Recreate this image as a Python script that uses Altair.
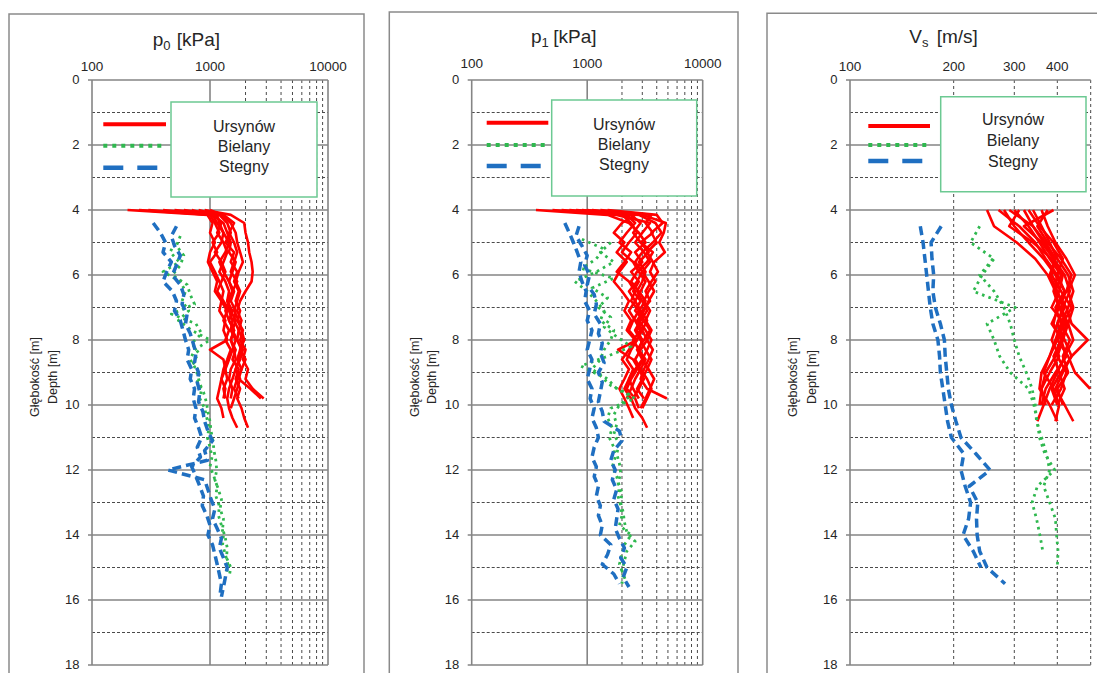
import altair as alt
import pandas as pd

FONT = "Liberation Sans"

# ---------------- data ----------------
SITES = ["Ursynów", "Bielany", "Stegny"]

# depth grids [m]
D_RED = [4.0, 4.15, 4.4, 4.7, 5.0, 5.3, 5.6, 5.9, 6.2, 6.5, 6.8, 7.1, 7.4, 7.7,
         8.0, 8.3, 8.6, 8.9, 9.2, 9.5, 9.8, 10.1, 10.4, 10.7]
GRID_A = [4.2, 4.5, 4.8, 5.1, 5.4, 5.7, 6.0, 6.3, 6.6, 6.9, 7.2, 7.5, 7.8, 8.1,
          8.4, 8.7, 9.0, 9.3, 9.6, 9.9, 10.2, 10.5, 10.8, 11.1, 11.4, 11.7, 12.0,
          12.3, 12.6, 12.9, 13.2, 13.5, 13.8, 14.1, 14.4, 14.7, 15.0, 15.3, 15.6, 15.9]
GRID_B = [4.3, 4.6, 4.9, 5.2, 5.5, 5.8, 6.1, 6.4, 6.7, 7.0, 7.3, 7.6, 7.9, 8.2,
          8.5, 8.8, 9.1, 9.4, 9.7, 10.0, 10.3, 10.6, 10.9, 11.2, 11.5, 11.8, 12.1,
          12.4, 12.7, 13.0, 13.3, 13.6, 13.9, 14.2, 14.5, 14.8, 15.1, 15.4, 15.7]
GRID_C = [4.4, 4.7, 5.0, 5.3, 5.6, 5.9, 6.2, 6.5, 6.8, 7.1, 7.4, 7.7, 8.0, 8.3,
          8.6, 8.9, 9.2, 9.5, 9.8, 10.1, 10.4, 10.7, 11.0, 11.3, 11.6, 11.9, 12.2,
          12.5, 12.8, 13.1, 13.4, 13.7, 14.0, 14.3, 14.6, 14.9, 15.2, 15.5, 15.8]
D_VS_RED = [4.0, 4.5, 5.0, 5.5, 6.0, 6.5, 7.0, 7.5, 8.0, 8.5, 9.0, 9.5, 10.0, 10.5]
D_VS = [4.5, 5.0, 5.5, 6.0, 6.5, 7.0, 7.5, 8.0, 8.5, 9.0, 9.5, 10.0, 10.5, 11.0,
        11.5, 12.0, 12.5, 13.0, 13.5, 14.0, 14.5, 15.0, 15.5]

# p0 [kPa]
P0_URSYNOW = [
    [200, 950, 1050, 1000, 1100, 1000, 960, 1050, 1150, 1100, 1250, 1200, 1350, 1300, 1400, 1000, 1300, 1350, 1250, 1350, 1300],
    [900, 1500, 1950, 2000, 2100, 2150, 2250, 2300, 2250, 2000, 1800, 1700, 1850, 1750, 1900, 1800, 2000, 1850, 1700, 1600, 1750],
    [600, 1200, 1400, 1500, 1350, 1600, 1500, 1700, 1600, 1750, 1650, 1800, 1700, 1900, 1800, 2000, 1900, 2100, 2000, 2300, 2850],
    [400, 1100, 1250, 1150, 1300, 1400, 1300, 1200, 1350, 1450, 1400, 1550, 1450, 1600, 1500, 1650, 1550, 1750, 1650, 1800, 1700, 1850, 1950, 2100],
    [700, 1000, 1100, 1200, 1050, 1150, 1000, 1100, 1200, 1300, 1250, 1400, 1300, 1450, 1350, 1500, 1400, 1300, 1250, 1200, 1150, 1250, 1300],
    [300, 1050, 1300, 1400, 1500, 1450, 1650, 1550, 1450, 1600, 1500, 1650, 1600, 1750, 1700, 1850, 1750, 1650, 1800, 1700, 1600, 1500],
    [1000, 1250, 1500, 1650, 1700, 1800, 1900, 1750, 1650, 1800, 1700, 1600, 1750, 1850, 1950, 1800, 1700, 1850, 1750, 2200, 2700],
    [800, 1150, 1200, 1300, 1250, 1100, 1250, 1350, 1250, 1150, 1300, 1450, 1550, 1500, 1650, 1550, 1450, 1350, 1400, 1300, 1350],
    [500, 1300, 1600, 1450, 1600, 1700, 1600, 1500, 1700, 1550, 1400, 1500, 1650, 1550, 1700, 1900, 1800, 1650, 1550, 1450, 1400, 1450, 1550, 1700],
    [250, 1050, 1150, 1300, 1450, 1350, 1200, 1300, 1450, 1550, 1450, 1350, 1450, 1600, 1500, 1600, 1650, 1500, 1450, 1550, 1500],
]
P0_BIELANY = [
    (GRID_A, 2, [560, 520, 600, 560, 480, 640, 680, 740, 470, 760, 850, 700, 800, 720, 820, 780, 880, 930, 960, 1000, 1020, 1060, 1080, 1120, 1140, 1100, 1180, 1250, 1220, 1300, 1280, 1350, 1400, 1380, 1500, 1450]),
    (GRID_C, 2, [500, 460, 550, 400, 560, 620, 580, 660, 540, 700, 1000, 740, 680, 760, 800, 850, 820, 900, 940, 980, 950, 1000, 1040, 1000, 1080, 1150, 1120, 1200, 1180, 1250, 1300, 1280, 1350, 1420, 1380]),
]
P0_STEGNY = [
    (GRID_C, 0, [330, 380, 420, 400, 470, 430, 400, 480, 520, 500, 560, 590, 620, 660, 640, 700, 680, 740, 720, 760, 740, 800, 850, 780, 830, 700, 760, 820, 880, 860, 940, 1000, 960, 1050, 1100, 1150, 1200, 1250, 1220]),
    (GRID_A, 1, [520, 470, 500, 560, 520, 480, 560, 600, 580, 640, 620, 680, 720, 760, 740, 800, 780, 820, 800, 870, 900, 960, 1050, 900, 950, 440, 900, 960, 1020, 1100, 1050, 1150, 1250, 1200, 1300, 1400, 1350, 1300, 1250]),
]

# p1 [kPa]
P1_URSYNOW = [
    [360, 1500, 2300, 2800, 3200, 2600, 3000, 2400, 2800, 2500, 2900, 2600, 3100, 2700, 3000, 2800, 3200, 2900, 2600, 2400, 2200],
    [1100, 3000, 4800, 4600, 4200, 4700, 3800, 3500, 3900, 3400, 3100, 3500, 3200, 3600, 3300, 3700, 3400, 3100, 2900, 3300, 4900],
    [700, 2200, 2600, 2200, 1900, 2400, 2100, 1800, 2300, 2600, 2400, 2800, 2500, 2300, 2700, 2400, 2200, 2500, 2300, 2100, 2400, 2600, 3000, 3300],
    [500, 1800, 3500, 3000, 2600, 3100, 3500, 3000, 2700, 2300, 2600, 2900, 3300, 3000, 2700, 1850, 2500, 2800, 3100, 2800, 2500],
    [1500, 4000, 4500, 3600, 4000, 3300, 3700, 4100, 3600, 3200, 3500, 3000, 2800, 3200, 3600, 3300, 3000, 3400, 3800, 3500, 3200, 2900],
    [900, 2600, 2000, 1700, 2100, 1800, 2200, 1900, 1700, 2000, 2300, 2100, 2400, 2200, 2600, 2300, 2000, 2300, 2100, 1900, 2100, 2300, 2500],
    [1300, 3600, 3200, 3700, 2900, 3400, 2800, 3200, 3000, 2700, 3000, 3300, 2900, 2600, 2900, 3200, 3600, 3300, 3000, 2700, 3100],
    [600, 2000, 2400, 2700, 2300, 2000, 2500, 2800, 3200, 2900, 2600, 2300, 2600, 2900, 2500, 2800, 3100, 2700, 2400, 2200, 2600, 2800],
    [800, 2800, 3900, 4400, 3700, 3000, 2600, 3000, 3400, 3800, 3400, 3100, 2700, 3000, 3300, 2900, 2600, 2900, 3300, 3600, 3300, 3000],
    [1000, 2400, 2900, 2500, 2900, 3700, 3300, 2700, 2400, 2800, 3200, 2800, 3100, 3500, 3100, 2700, 3000, 2600, 2300, 2500, 2800],
]
P1_BIELANY = [
    (GRID_B, 2, [900, 1400, 1200, 900, 1700, 1100, 1500, 1250, 1600, 1400, 1800, 2400, 1500, 880, 1300, 1600, 2400, 1900, 1700, 1800, 1700, 1900, 1800, 1900, 1950, 1850, 2000, 1950, 2050, 2100, 2200, 2600, 2200, 2100, 2000, 2150]),
    (GRID_C, 2, [1600, 1300, 1700, 1200, 780, 1000, 1200, 1400, 1300, 1700, 1600, 1400, 1300, 1100, 1500, 1800, 2600, 1600, 1500, 1650, 1550, 1700, 1750, 1650, 1800, 1900, 1850, 1950, 2000, 1900, 2400, 2100, 2000, 1900, 2050, 2000]),
]
P1_STEGNY = [
    (GRID_C, 0, [640, 700, 760, 820, 880, 850, 900, 980, 950, 1050, 1000, 1100, 1050, 1000, 1100, 1050, 1000, 1100, 1060, 1150, 1100, 1200, 1250, 1150, 1100, 1200, 1150, 1250, 1200, 1300, 1250, 1350, 1300, 1600, 1500, 1350, 1700, 1900]),
    (GRID_A, 1, [850, 800, 900, 1000, 950, 1050, 1000, 1150, 1200, 1150, 1300, 1250, 1350, 1300, 1400, 1250, 1350, 1300, 1250, 1350, 1400, 1900, 2000, 1700, 1600, 1750, 1650, 1800, 1700, 1850, 1800, 1750, 1900, 2100, 1950, 2200, 2050, 2300]),
]

# Vs [m/s]
VS_URSYNOW = [
    [250, 262, 305, 345, 375, 395, 405, 385, 415, 395, 370, 360, 355],
    [280, 300, 330, 365, 395, 420, 410, 430, 445, 420, 400, 380, 365, 350],
    [300, 330, 355, 380, 410, 395, 425, 440, 490, 440, 410, 385, 400],
    [320, 340, 370, 395, 385, 410, 440, 415, 400, 430, 450, 498],
    [390, 320, 360, 390, 420, 435, 415, 400, 420, 440, 415, 395, 420, 445],
    [340, 360, 380, 400, 430, 445, 430, 410, 395, 380, 360, 355, 380, 400],
    [270, 310, 345, 370, 400, 390, 405, 425, 410, 390, 405, 420, 400],
    [375, 350, 375, 410, 440, 425, 400, 390, 410, 425, 395, 370, 360],
    [310, 290, 340, 385, 415, 405, 385, 420, 400, 380, 365, 390, 405, 395],
    [360, 375, 395, 425, 450, 430, 445, 430, 415, 400, 425, 410, 385],
    [290, 340, 365, 395, 380, 400, 420, 400, 385, 405, 380, 360, 370],
    [330, 355, 390, 415, 400, 420, 395, 410, 435, 415, 430, 400, 415],
]
VS_BIELANY = [
    (D_VS, 0, [238, 224, 262, 242, 228, 302, 250, 262, 272, 292, 330, 342, 350, 355, 368, 393, 350, 338, 348, 356, 363]),
    (D_VS, 2, [260, 238, 262, 280, 292, 300, 310, 325, 338, 345, 348, 360, 372, 380, 365, 380, 395, 398, 402, 400]),
]
VS_STEGNY = [
    (D_VS, 0, [160, 163, 165, 167, 169, 171, 174, 180, 182, 183, 186, 189, 192, 197, 214, 210, 216, 224, 221, 213, 228, 240]),
    (D_VS, 0, [184, 172, 173, 175, 174, 177, 183, 188, 189, 191, 193, 197, 203, 210, 232, 255, 222, 235, 233, 234, 238, 250, 282]),
]

DEPTH_MAJOR = [0, 2, 4, 6, 8, 10, 12, 14, 16, 18]
DEPTH_MINOR = [1, 3, 5, 7, 9, 11, 13, 15, 17]

PANELS = ["p0", "p1", "vs"]
TICKS = {"p0": [100, 1000, 10000], "p1": [100, 1000, 10000], "vs": [100, 200, 300, 400]}
GRID_SOLID = {"p0": [100, 1000, 10000], "p1": [100, 1000, 10000], "vs": [100]}
GRID_DOTTED = {"p0": [2000, 3000, 4000, 5000, 6000, 7000, 8000, 9000],
               "p1": [2000, 3000, 4000, 5000, 6000, 7000, 8000, 9000],
               "vs": [200, 300, 400, 500]}
DOMAINS = {"p0": [100, 10000], "p1": [100, 10000], "vs": [100, 500]}
TITLES = {"p0": ("p", "0", "[kPa]"), "p1": ("p", "1", "[kPa]"), "vs": ("V", "s", "[m/s]")}
SERIES = {
    "p0": [P0_URSYNOW, P0_BIELANY, P0_STEGNY],
    "p1": [P1_URSYNOW, P1_BIELANY, P1_STEGNY],
    "vs": [VS_URSYNOW, VS_BIELANY, VS_STEGNY],
}
RED_DEPTHS = {"p0": D_RED, "p1": D_RED, "vs": D_VS_RED}

# ---------------- layout / style ----------------
W, H = 1089, 585
RANGES = {"p0": [84, 320], "p1": [463.7, 694.7], "vs": [842, 1082.7]}
FRAME = {"p0": (1, 356, -66), "p1": (381.3, 730, -68), "vs": (759, 1100, -66.7)}
TICK_Y = {"p0": -13.3, "p1": -16, "vs": -13.5}
TITLE_POS = {"p0": (144.7, 155.3, 168.7, -34), "p1": (523, 533.6, 545.3, -37),
             "vs": (901.3, 914.0, 928.7, -37)}
YTITLE_X = {"p0": (27, 45), "p1": (407, 423.7), "vs": (785.3, 803.7)}
LEGEND = {
    "p0": dict(sx=(95.3, 158), sy=(44.3, 65.7, 87.7), box=(163, 309, 22, 117), tx=236, ty=(47, 67, 87)),
    "p1": dict(sx=(478.7, 540.3), sy=(42.7, 65, 86), box=(543.7, 688.7, 20, 116), tx=616, ty=(45, 65, 85)),
    "vs": dict(sx=(860.3, 922), sy=(46, 65, 81), box=(932.7, 1078, 16.7, 111.7), tx=1005, ty=(40, 61, 82)),
}
COLORS = ["#ff0000", "#2fb84f", "#1f6fc1"]
LINE_STYLE = [dict(strokeWidth=2.6), dict(strokeWidth=2.8, strokeDash=[2.6, 4.2]),
              dict(strokeWidth=3.5, strokeDash=[9, 5])]
LEG_STYLE = [dict(strokeWidth=4), dict(strokeWidth=4, strokeDash=[4, 5]),
             dict(strokeWidth=4.5, strokeDash=[20, 14])]
GRID_COLOR = "#858585"
DASH_COLOR = "#4a4a4a"
TEXT_COLOR = "#262626"

ys = alt.Scale(domain=[0, 18], range=[0, H], nice=False, zero=False)


def xs(p):
    return alt.Scale(type="log", domain=DOMAINS[p], range=RANGES[p], nice=False)


dummy = pd.DataFrame({"a": [0]})
layers = []

for p in PANELS:
    r0, r1 = RANGES[p]
    f0, f1, ftop = FRAME[p]
    # panel frame
    layers.append(alt.Chart(dummy).mark_rect(fillOpacity=0, stroke="#8a8a8a", strokeWidth=1.5).encode(
        x=alt.value(f0), x2=alt.value(f1), y=alt.value(ftop), y2=alt.value(H + 40)))
    # dashed / dotted grid
    layers.append(alt.Chart(pd.DataFrame({"d": DEPTH_MINOR})).mark_rule(
        color=DASH_COLOR, strokeWidth=1, strokeDash=[3, 2]).encode(
        y=alt.Y("d:Q", scale=ys, axis=None), x=alt.value(r0), x2=alt.value(r1)))
    layers.append(alt.Chart(pd.DataFrame({"v": GRID_DOTTED[p]})).mark_rule(
        color=DASH_COLOR, strokeWidth=1, strokeDash=[3, 3]).encode(
        x=alt.X("v:Q", scale=xs(p), axis=None), y=alt.value(0), y2=alt.value(H)))
    # solid grid
    layers.append(alt.Chart(pd.DataFrame({"d": DEPTH_MAJOR})).mark_rule(
        color=GRID_COLOR, strokeWidth=1.6).encode(
        y=alt.Y("d:Q", scale=ys, axis=None), x=alt.value(r0 - 4), x2=alt.value(r1)))
    layers.append(alt.Chart(pd.DataFrame({"v": GRID_SOLID[p]})).mark_rule(
        color=GRID_COLOR, strokeWidth=1.6).encode(
        x=alt.X("v:Q", scale=xs(p), axis=None), y=alt.value(0), y2=alt.value(H)))
    # tick labels
    layers.append(alt.Chart(pd.DataFrame({"v": TICKS[p], "lab": [str(t) for t in TICKS[p]]})).mark_text(
        font=FONT, fontSize=13.5, color=TEXT_COLOR, baseline="middle", align="center").encode(
        x=alt.X("v:Q", scale=xs(p), axis=None), y=alt.value(TICK_Y[p]), text="lab:N"))
    layers.append(alt.Chart(pd.DataFrame({"d": DEPTH_MAJOR})).mark_text(
        font=FONT, fontSize=13, color=TEXT_COLOR, baseline="middle", align="right").encode(
        y=alt.Y("d:Q", scale=ys, axis=None), x=alt.value(r0 - 12.5), text=alt.Text("d:Q", format="d")))
    # titles
    t_main, t_sub, t_unit = TITLES[p]
    tx0, tx1, tx2, ty = TITLE_POS[p]
    layers.append(alt.Chart(dummy).mark_text(text=t_main, font=FONT, fontSize=19, color=TEXT_COLOR,
                                             align="left", baseline="alphabetic").encode(
        x=alt.value(tx0), y=alt.value(ty)))
    layers.append(alt.Chart(dummy).mark_text(text=t_sub, font=FONT, fontSize=13, color=TEXT_COLOR,
                                             align="left", baseline="alphabetic").encode(
        x=alt.value(tx1), y=alt.value(ty + 4)))
    layers.append(alt.Chart(dummy).mark_text(text=t_unit, font=FONT, fontSize=19, color=TEXT_COLOR,
                                             align="left", baseline="alphabetic").encode(
        x=alt.value(tx2), y=alt.value(ty)))
    # y-axis titles
    yt0, yt1 = YTITLE_X[p]
    layers.append(alt.Chart(dummy).mark_text(text="Głębokość [m]", font=FONT, fontSize=12.5, color=TEXT_COLOR,
                                             angle=270, align="center", baseline="middle").encode(
        x=alt.value(yt0), y=alt.value(297)))
    layers.append(alt.Chart(dummy).mark_text(text="Depth [m]", font=FONT, fontSize=12.5, color=TEXT_COLOR,
                                             angle=270, align="center", baseline="middle").encode(
        x=alt.value(yt1), y=alt.value(297)))

    # data lines
    for si, site in enumerate(SITES):
        rows = []
        group = SERIES[p][si]
        for k, prof in enumerate(group):
            if si == 0:
                grid, start, vals = RED_DEPTHS[p], 0, prof
            else:
                grid, start, vals = prof
            for i, (d, v) in enumerate(zip(grid[start:], vals)):
                rows.append({"pid": f"{site}-{k}", "idx": i, "depth": d, "value": v})
        df = pd.DataFrame(rows)
        layers.append(alt.Chart(df).mark_line(color=COLORS[si], strokeCap="butt", strokeJoin="round",
                                              **LINE_STYLE[si]).encode(
            x=alt.X("value:Q", scale=xs(p), axis=None),
            y=alt.Y("depth:Q", scale=ys, axis=None),
            detail="pid:N", order="idx:Q"))

    # legend
    lg = LEGEND[p]
    for si, site in enumerate(SITES):
        layers.append(alt.Chart(dummy).mark_rule(color=COLORS[si], strokeCap="butt", **LEG_STYLE[si]).encode(
            x=alt.value(lg["sx"][0]), x2=alt.value(lg["sx"][1]), y=alt.value(lg["sy"][si])))
    b0, b1, bt, bb = lg["box"]
    layers.append(alt.Chart(dummy).mark_rect(fill="white", stroke="#6cc992", strokeWidth=1.5).encode(
        x=alt.value(b0), x2=alt.value(b1), y=alt.value(bt), y2=alt.value(bb)))
    for si, site in enumerate(SITES):
        layers.append(alt.Chart(dummy).mark_text(text=site, font=FONT, fontSize=16, color=TEXT_COLOR,
                                                 align="center", baseline="middle").encode(
            x=alt.value(lg["tx"]), y=alt.value(lg["ty"][si])))

chart = alt.layer(*layers).resolve_scale(x="independent").properties(
    width=W, height=H,
    autosize=alt.AutoSizeParams(type="none"),
    padding={"left": 0, "top": 72, "right": 0, "bottom": 8},
).configure_view(strokeWidth=0)

chart.save("out.html", embed_options={"renderer": "svg", "actions": False})
